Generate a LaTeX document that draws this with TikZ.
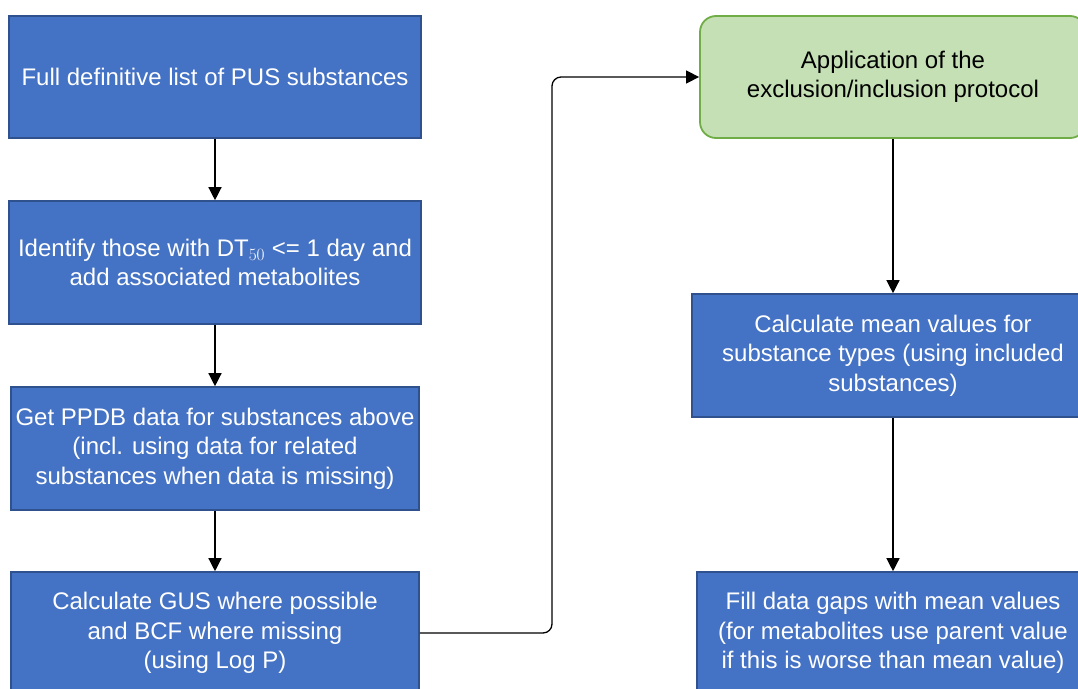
\documentclass[tikz,border=0pt]{standalone}
\usepackage{fontspec}
\setmainfont{Liberation Sans}
\usetikzlibrary{arrows.meta}
\definecolor{bfill}{HTML}{4472C4}
\definecolor{bdraw}{HTML}{2F528F}
\definecolor{gfill}{HTML}{C5E0B4}
\definecolor{gdraw}{HTML}{70AD47}
\tikzset{
  bluebox/.style={draw=bdraw, fill=bfill, line width=1.6pt, text=white, inner sep=0pt, align=center, font=\fontsize{24}{29.5}\selectfont},
  greenbox/.style={draw=gdraw, fill=gfill, line width=1.8pt, rounded corners=16pt, text=black, inner sep=0pt, align=center, font=\fontsize{24}{29.5}\selectfont},
  flow/.style={line width=1.3pt, -{Triangle[width=13pt,length=13pt]}},
}
\begin{document}
\begin{tikzpicture}[x=1pt,y=1pt]
\useasboundingbox (0,0) rectangle (1078,-688);
\clip (0,0) rectangle (1078,-688);
\node[bluebox, minimum width=412pt, minimum height=122pt] (b1) at (215,-77) {Full definitive list of PUS substances};
\node[bluebox, minimum width=412pt, minimum height=123pt] (b2) at (215,-262.5) {Identify those with DT$_{50}$ <= 1 day and\\add associated metabolites};
\node[bluebox, minimum width=408pt, minimum height=123pt] (b3) at (215,-448.5) {Get PPDB data for substances above\\(incl. using data for related\\substances when data is missing)};
\node[bluebox, minimum width=408pt, minimum height=122pt] (b4) at (215,-633) {Calculate GUS where possible\\and BCF where missing\\(using Log P)};
\node[greenbox, minimum width=386pt, minimum height=122pt] (g) at (893,-77) {Application of the\\exclusion/inclusion protocol};
\node[bluebox, minimum width=402pt, minimum height=123pt] (b6) at (893,-355.5) {Calculate mean values for\\substance types (using included\\substances)};
\node[bluebox, minimum width=392pt, minimum height=122pt] (b7) at (893,-633) {Fill data gaps with mean values\\(for metabolites use parent value\\if this is worse than mean value)};
\draw[flow] (b1) -- (b2);
\draw[flow] (b2) -- (b3);
\draw[flow] (b3) -- (b4);
\draw[flow] (g) -- (b6);
\draw[flow] (b6) -- (b7);
\coordinate (turn) at (552,-633);
\draw[flow, rounded corners=9pt] (b4.east) -- (turn) |- (g.west);
\end{tikzpicture}
\end{document}
